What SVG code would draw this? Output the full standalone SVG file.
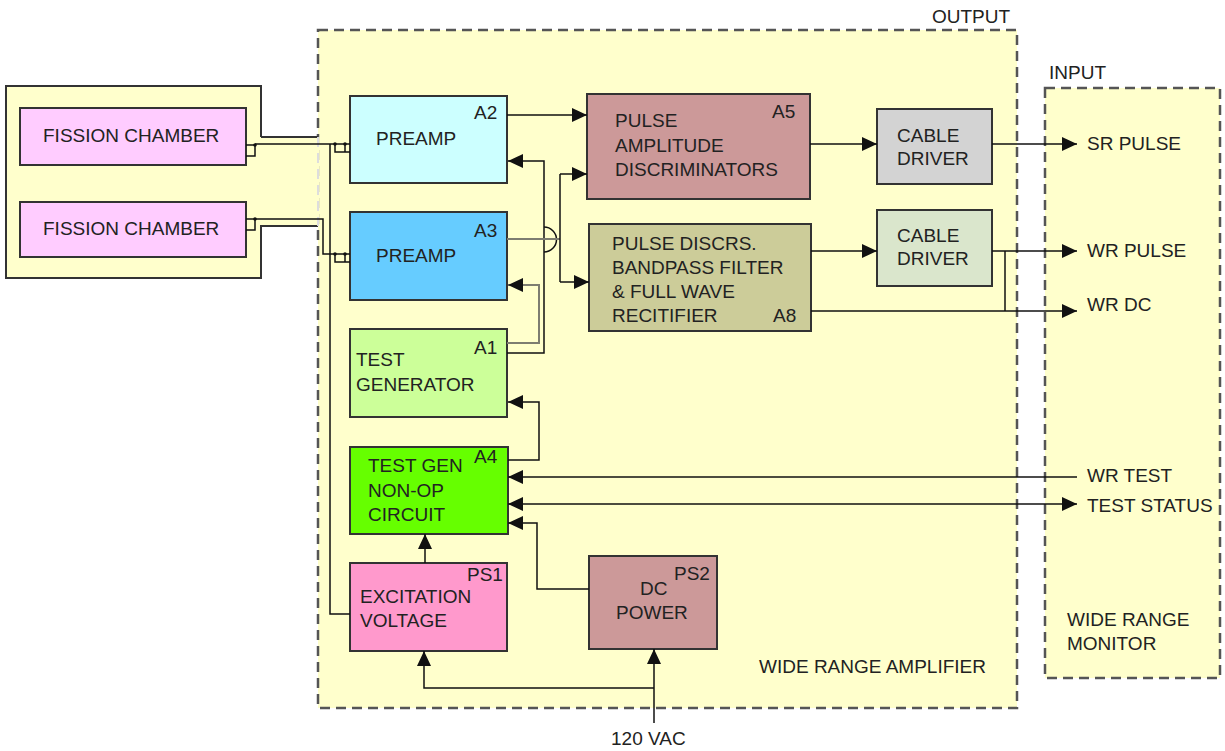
<svg xmlns="http://www.w3.org/2000/svg" width="1225" height="751" viewBox="0 0 1225 751">
<style>
text{font-family:"Liberation Sans",Arial,sans-serif;font-size:19px;fill:#222}
.box{stroke:#333;stroke-width:2}
.dash{fill:#FFFFCC;stroke:#555;stroke-width:2.5;stroke-dasharray:10 6}
.ln{fill:none;stroke:#111;stroke-width:1.5}
.gl{fill:none;stroke:#7d7d70;stroke-width:2}
</style>
<defs>
<marker id="ah" markerUnits="userSpaceOnUse" markerWidth="16" markerHeight="14" refX="15" refY="7" orient="auto-start-reverse">
<path d="M0,0 L15,7 L0,14 z" fill="#111"/>
</marker>
</defs>
<rect width="1225" height="751" fill="#fff"/>

<g id="amplifier">
<rect class="dash" x="318" y="30" width="699" height="678"/>
<text x="932" y="23">OUTPUT</text>
<text x="759" y="673">WIDE RANGE AMPLIFIER</text>
</g>

<g id="monitor">
<rect class="dash" x="1045" y="88" width="175" height="590"/>
<text x="1049" y="79">INPUT</text>
<text x="1067" y="626">WIDE RANGE</text>
<text x="1067" y="650">MONITOR</text>
</g>

<g id="chambers-enclosure">
<path d="M6,86 H261 V137 H319.5 V226 H261 V278 H6 Z" fill="#FFFFCC"/>
<path d="M261,137 V86 H6 V278 H261 V226 H318 M261,137 H318" fill="none" stroke="#333" stroke-width="2"/>
<line x1="318" y1="137" x2="318" y2="226" stroke="#ddd" stroke-width="2" stroke-dasharray="10 6"/>
</g>

<g id="fission1">
<rect class="box" x="20" y="108" width="226" height="57" fill="#FFCCFF"/>
<text x="43" y="142">FISSION CHAMBER</text>
</g>
<g id="fission2">
<rect class="box" x="20" y="202" width="226" height="55" fill="#FFCCFF"/>
<text x="43" y="235">FISSION CHAMBER</text>
</g>

<g id="preamp-a2">
<rect class="box" x="350" y="96" width="157" height="87" fill="#CCFFFF"/>
<text x="376" y="145">PREAMP</text>
<text x="474" y="119">A2</text>
</g>
<g id="preamp-a3">
<rect class="box" x="350" y="212" width="157" height="88" fill="#66CCFF"/>
<text x="376" y="262">PREAMP</text>
<text x="474" y="237">A3</text>
</g>
<g id="testgen-a1">
<rect class="box" x="350" y="329" width="157" height="88" fill="#CCFF99"/>
<text x="356" y="366">TEST</text>
<text x="356" y="391">GENERATOR</text>
<text x="474" y="354">A1</text>
</g>
<g id="nonop-a4">
<rect class="box" x="350" y="447" width="158" height="87" fill="#66FF00"/>
<text x="368" y="472">TEST GEN</text>
<text x="368" y="497">NON-OP</text>
<text x="368" y="521">CIRCUIT</text>
<text x="474" y="463">A4</text>
</g>
<g id="excitation-ps1">
<rect class="box" x="350" y="563" width="157" height="88" fill="#FF99CC"/>
<text x="360" y="603">EXCITATION</text>
<text x="360" y="627">VOLTAGE</text>
<text x="467" y="581">PS1</text>
</g>
<g id="dcpower-ps2">
<rect class="box" x="589" y="556" width="128" height="93" fill="#CC9999"/>
<text x="640" y="595">DC</text>
<text x="616" y="619">POWER</text>
<text x="674" y="580">PS2</text>
</g>
<g id="discrim-a5">
<rect class="box" x="587" y="94" width="223" height="105" fill="#CC9999"/>
<text x="615" y="127">PULSE</text>
<text x="615" y="152">AMPLITUDE</text>
<text x="615" y="176">DISCRIMINATORS</text>
<text x="772" y="118">A5</text>
</g>
<g id="filter-a8">
<rect class="box" x="589" y="224" width="222" height="107" fill="#CCCC99"/>
<text x="612" y="250">PULSE DISCRS.</text>
<text x="612" y="274">BANDPASS FILTER</text>
<text x="612" y="298">&amp; FULL WAVE</text>
<text x="612" y="322">RECITIFIER</text>
<text x="773" y="322">A8</text>
</g>
<g id="cabledriver1">
<rect class="box" x="877" y="109" width="115" height="75" fill="#D3D3D3"/>
<text x="897" y="142">CABLE</text>
<text x="897" y="165">DRIVER</text>
</g>
<g id="cabledriver2">
<rect class="box" x="877" y="210" width="115" height="76" fill="#DAE6CC"/>
<text x="897" y="242">CABLE</text>
<text x="897" y="265">DRIVER</text>
</g>

<g id="labels">
<text x="1087" y="150">SR PULSE</text>
<text x="1087" y="257">WR PULSE</text>
<text x="1087" y="311">WR DC</text>
<text x="1087" y="482">WR TEST</text>
<text x="1087" y="512">TEST STATUS</text>
<text x="611" y="745">120 VAC</text>
</g>

<g id="connectors">
<path class="ln" d="M246,145 H255 V156 H246"/>
<circle cx="255" cy="145" r="1.8" fill="#111"/>
<path class="ln" d="M255,144 H350"/>
<path class="ln" d="M246,219 H255 V230 H246"/>
<circle cx="255" cy="219" r="1.8" fill="#111"/>
<path class="ln" d="M255,219 H323 V254 H350"/>
<path class="ln" d="M335,144 V152 H350 M345,144 V152"/>
<circle cx="335" cy="144" r="1.8" fill="#111"/><circle cx="345" cy="144" r="1.8" fill="#111"/>
<path class="ln" d="M335,254 V262 H350 M345,254 V262"/>
<circle cx="335" cy="254" r="1.8" fill="#111"/><circle cx="345" cy="254" r="1.8" fill="#111"/>
<path class="ln" d="M330,144 V614 H350"/>
<path class="ln" d="M507,115 H587" marker-end="url(#ah)"/>
<path class="ln" d="M507,353 H544 V161 H508" marker-end="url(#ah)"/>
<path class="ln" d="M544,227 A12.5,12.5 0 0 1 544,252"/>
<path class="gl" d="M507,343 H539 V285 H508" marker-end="url(#ah)"/>
<path class="gl" d="M507,239 H560"/>
<path class="ln" d="M560,174 V282"/>
<path class="ln" d="M560,174 H587" marker-end="url(#ah)"/>
<path class="ln" d="M560,282 H589" marker-end="url(#ah)"/>
<path class="ln" d="M810,144 H877" marker-end="url(#ah)"/>
<path class="ln" d="M992,144 H1077" marker-end="url(#ah)"/>
<path class="ln" d="M811,251 H877" marker-end="url(#ah)"/>
<path class="ln" d="M992,251 H1077" marker-end="url(#ah)"/>
<path class="ln" d="M1005,251 V311"/>
<path class="ln" d="M811,311 H1077" marker-end="url(#ah)"/>
<path class="ln" d="M1077,477 H508" marker-end="url(#ah)"/>
<path class="ln" d="M508,504 H1077" marker-start="url(#ah)" marker-end="url(#ah)"/>
<path class="ln" d="M508,460 H539 V402 H508" marker-end="url(#ah)"/>
<path class="ln" d="M589,589 H537 V523 H508" marker-end="url(#ah)"/>
<path class="ln" d="M425,563 V534" marker-end="url(#ah)"/>
<path class="ln" d="M654,723 V649" marker-end="url(#ah)"/>
<path class="ln" d="M654,688 H424 V651" marker-end="url(#ah)"/>
</g>
</svg>
